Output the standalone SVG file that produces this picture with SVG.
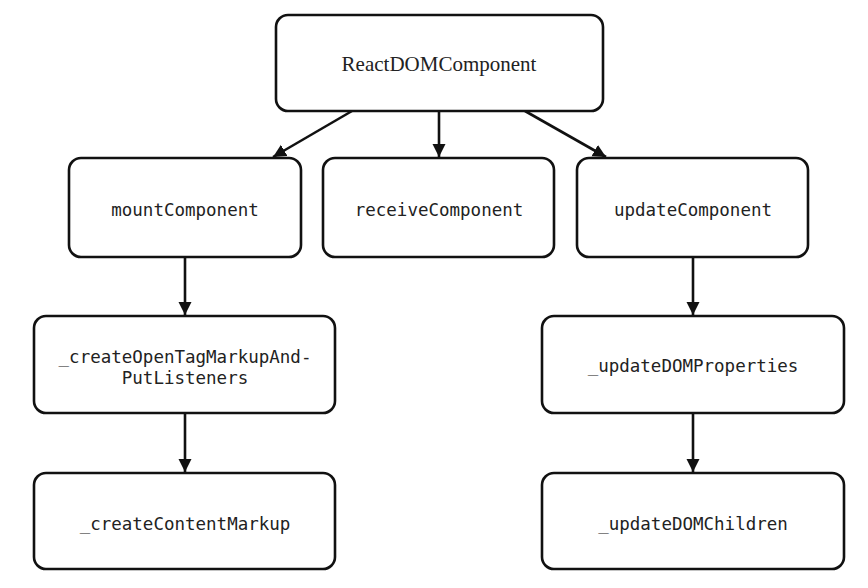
<svg xmlns="http://www.w3.org/2000/svg" width="868" height="588" viewBox="0 0 868 588">
<defs>
<style>
.box{fill:#fff;stroke:#111;stroke-width:2.6}
.mono{font-family:"DejaVu Sans Mono","Liberation Mono",monospace;font-size:17.5px;fill:#222;text-anchor:middle}
.serif{font-family:"Liberation Serif","Times New Roman",serif;font-size:21px;fill:#222;text-anchor:middle}
.edge{stroke:#111;stroke-width:2.6;fill:none;marker-end:url(#arr)}
</style>
<marker id="arr" viewBox="0 0 10 10" refX="10" refY="5" markerWidth="5" markerHeight="5.5" markerUnits="strokeWidth" orient="auto">
<path d="M0,0 L10,5 L0,10 z" fill="#111"/>
</marker>
</defs>
<rect width="868" height="588" fill="#fff"/>
<g id="connectors">
<line class="edge" x1="439" y1="111" x2="439" y2="157"/>
<line class="edge" x1="352" y1="111" x2="273" y2="157"/>
<line class="edge" x1="525" y1="111" x2="606" y2="157"/>
<line class="edge" x1="185" y1="257" x2="185" y2="315"/>
<line class="edge" x1="185" y1="413" x2="185" y2="472"/>
<line class="edge" x1="693" y1="257" x2="693" y2="315"/>
<line class="edge" x1="693" y1="413" x2="693" y2="472"/>
</g>
<g id="reactdomcomponent">
<rect class="box" x="276" y="15" width="327" height="96" rx="12"/>
<text class="serif" x="439" y="71">ReactDOMComponent</text>
</g>
<g id="mountcomponent">
<rect class="box" x="69" y="158" width="232" height="99" rx="12"/>
<text class="mono" x="185" y="216">mountComponent</text>
</g>
<g id="receivecomponent">
<rect class="box" x="323" y="158" width="231" height="99" rx="12"/>
<text class="mono" x="439" y="216">receiveComponent</text>
</g>
<g id="updatecomponent">
<rect class="box" x="577" y="158" width="231" height="99" rx="12"/>
<text class="mono" x="693" y="216">updateComponent</text>
</g>
<g id="createopentag">
<rect class="box" x="34" y="316" width="301" height="97" rx="12"/>
<text class="mono" x="185" y="363">_createOpenTagMarkupAnd-</text>
<text class="mono" x="185" y="384">PutListeners</text>
</g>
<g id="createcontentmarkup">
<rect class="box" x="34" y="473" width="301" height="96" rx="12"/>
<text class="mono" x="185" y="530">_createContentMarkup</text>
</g>
<g id="updatedomproperties">
<rect class="box" x="542" y="316" width="302" height="97" rx="12"/>
<text class="mono" x="693" y="372">_updateDOMProperties</text>
</g>
<g id="updatedomchildren">
<rect class="box" x="542" y="473" width="302" height="96" rx="12"/>
<text class="mono" x="693" y="530">_updateDOMChildren</text>
</g>
</svg>
